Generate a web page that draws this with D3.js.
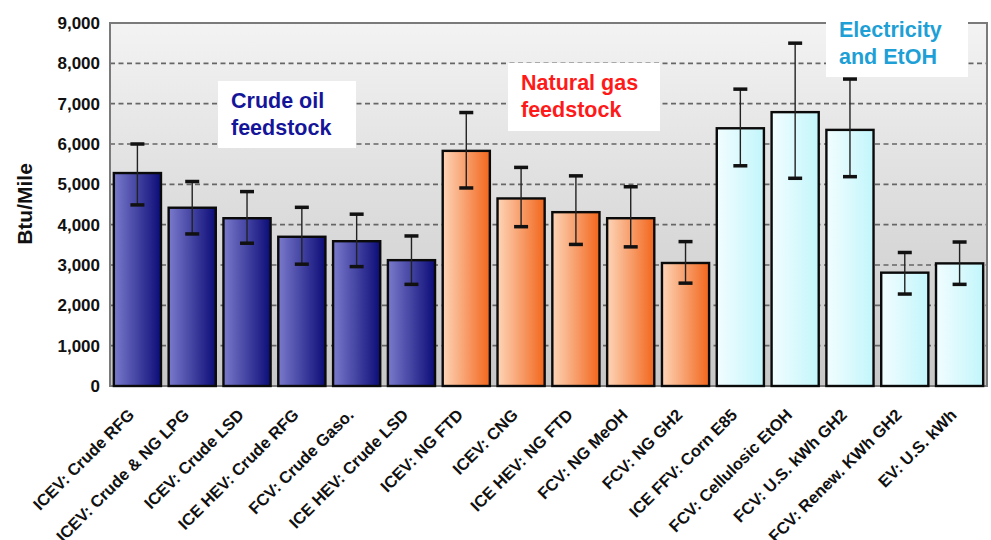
<!DOCTYPE html>
<html>
<head>
<meta charset="utf-8">
<script src="https://cdn.jsdelivr.net/npm/d3@7/dist/d3.min.js"></script>
<style>
  html, body { margin: 0; padding: 0; background: #ffffff; }
  svg { display: block; font-family: "Liberation Sans", Arial, sans-serif; }
</style>
</head>
<body>
<svg id="chart" width="991" height="540"></svg>
<script>
// Pathway energy use per mile, with low/high ranges
const categories = [
  "ICEV: Crude RFG", "ICEV: Crude & NG LPG", "ICEV: Crude LSD", "ICE HEV: Crude RFG",
  "FCV: Crude Gaso.", "ICE HEV: Crude LSD", "ICEV: NG FTD", "ICEV: CNG",
  "ICE HEV: NG FTD", "FCV: NG MeOH", "FCV: NG GH2", "ICE FFV: Corn E85",
  "FCV: Cellulosic EtOH", "FCV: U.S. kWh GH2", "FCV: Renew. KWh GH2", "EV: U.S. kWh"
];
const values = [5280, 4420, 4160, 3700, 3590, 3120, 5830, 4650, 4310, 4160, 3050, 6390, 6790, 6350, 2810, 3040];
const errHigh = [6000, 5070, 4820, 4430, 4260, 3720, 6780, 5420, 5210, 4940, 3580, 7360, 8500, 7610, 3310, 3570];
const errLow = [4490, 3770, 3540, 3020, 2960, 2520, 4910, 3950, 3510, 3450, 2550, 5460, 5150, 5190, 2280, 2520];
const groups = ["crude", "crude", "crude", "crude", "crude", "crude", "ng", "ng", "ng", "ng", "ng",
  "elec", "elec", "elec", "elec", "elec"];
const yTicks = [0, 1000, 2000, 3000, 4000, 5000, 6000, 7000, 8000, 9000];
const groupNotes = [
  { lines: ["Crude oil", "feedstock"], color: "#15159a", box: [218, 81, 356, 148] },
  { lines: ["Natural gas", "feedstock"], color: "#ff1a1a", box: [508, 63, 660, 131] },
  { lines: ["Electricity", "and EtOH"], color: "#1e9fd6", box: [826, 10, 968, 77] }
];

const svg = d3.select("#chart");
const margin = { left: 110, top: 23, right: 4, bottom: 154 };
const W = 991, H = 540;
const x0 = margin.left, x1 = W - margin.right, y0 = margin.top, y1 = H - margin.bottom;

const x = d3.scaleBand().domain(categories).range([x0, x1]).paddingInner(0.14).paddingOuter(0.07);
const y = d3.scaleLinear().domain([0, 9000]).range([y1, y0]);

const defs = svg.append("defs");
const bg = defs.append("linearGradient").attr("id", "bg").attr("x1", 0).attr("y1", 0).attr("x2", 0).attr("y2", 1);
bg.append("stop").attr("offset", "0%").attr("stop-color", "#f3f3f3");
bg.append("stop").attr("offset", "100%").attr("stop-color", "#c7c7c7");

const fills = {
  crude: ["#7a7acc", "#0c0c78"],
  ng: ["#fdd5b8", "#f2661c"],
  elec: ["#f2fdff", "#c2f6fb"]
};
Object.entries(fills).forEach(([k, c]) => {
  const g = defs.append("linearGradient").attr("id", "g-" + k).attr("x1", 0).attr("y1", 0).attr("x2", 1).attr("y2", 0);
  g.append("stop").attr("offset", "0%").attr("stop-color", c[0]);
  g.append("stop").attr("offset", "100%").attr("stop-color", c[1]);
});

// plot background
svg.append("rect").attr("x", x0).attr("y", y0).attr("width", x1 - x0).attr("height", y1 - y0)
  .attr("fill", "url(#bg)");

// dashed gridlines
svg.append("g").selectAll("line").data(yTicks.filter(t => t > 0 && t < 9000)).join("line")
  .attr("x1", x0).attr("x2", x1).attr("y1", d => y(d)).attr("y2", d => y(d))
  .attr("stroke", "#666").attr("stroke-width", 1.7).attr("stroke-dasharray", "5,3.5");

// plot frame
svg.append("rect").attr("x", x0).attr("y", y0).attr("width", x1 - x0).attr("height", y1 - y0)
  .attr("fill", "none").attr("stroke", "#7a7a7a").attr("stroke-width", 2);

// bars
svg.append("g").selectAll("rect").data(categories).join("rect")
  .attr("x", d => x(d)).attr("width", x.bandwidth())
  .attr("y", (d, i) => y(values[i])).attr("height", (d, i) => y(0) - y(values[i]))
  .attr("fill", (d, i) => "url(#g-" + groups[i] + ")")
  .attr("stroke", "#0a0a0a").attr("stroke-width", 2.4);

// error bars
const eg = svg.append("g");
categories.forEach((c, i) => {
  const cx = x(c) + x.bandwidth() / 2;
  eg.append("line").attr("x1", cx).attr("x2", cx).attr("y1", y(errHigh[i])).attr("y2", y(errLow[i]))
    .attr("stroke", "#222").attr("stroke-width", 1.4);
  [errHigh[i], errLow[i]].forEach(v => {
    eg.append("line").attr("x1", cx - 7).attr("x2", cx + 7).attr("y1", y(v)).attr("y2", y(v))
      .attr("stroke", "#111").attr("stroke-width", 3.5);
  });
});

// y axis
const yAxis = svg.append("g").attr("transform", `translate(${x0},0)`)
  .call(d3.axisLeft(y).tickValues(yTicks).tickSize(0).tickPadding(10).tickFormat(d3.format(",")));
yAxis.select(".domain").remove();
yAxis.selectAll("text").attr("font-size", 17).attr("font-weight", "bold").attr("fill", "#111")
  .attr("font-family", "Liberation Sans, Arial, sans-serif");

svg.append("text").attr("transform", `translate(32,204) rotate(-90)`)
  .attr("text-anchor", "middle").attr("font-size", 21).attr("font-weight", "bold").attr("fill", "#111")
  .text("Btu/Mile");

// category labels
svg.append("g").selectAll("text").data(categories).join("text")
  .attr("transform", d => `translate(${x(d) + x.bandwidth() / 2 - 2},${y1 + 30}) rotate(-45)`)
  .attr("text-anchor", "end").attr("font-size", 16.5).attr("font-weight", "bold").attr("fill", "#111")
  .text(d => d);

// group notes
groupNotes.forEach(n => {
  const [bx0, by0, bx1, by1] = n.box;
  svg.append("rect").attr("x", bx0).attr("y", by0).attr("width", bx1 - bx0).attr("height", by1 - by0)
    .attr("fill", "#ffffff");
  n.lines.forEach((t, j) => {
    svg.append("text").attr("x", bx0 + 13).attr("y", by0 + 27 + j * 27)
      .attr("font-size", 21.5).attr("font-weight", "bold").attr("fill", n.color).text(t);
  });
});
</script>
</body>
</html>
